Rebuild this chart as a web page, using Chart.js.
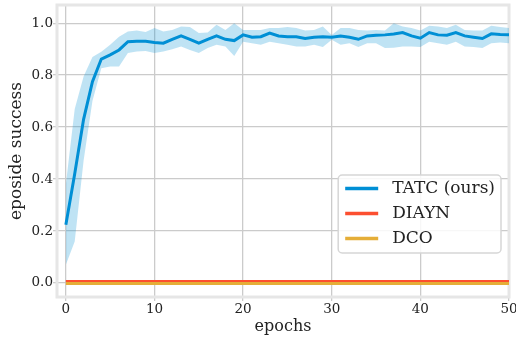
<!DOCTYPE html>
<html>
<head>
<meta charset="utf-8">
<script src="https://cdn.jsdelivr.net/npm/chart.js@4/dist/chart.umd.min.js"></script>
<style>
  html, body { margin: 0; padding: 0; background: #fff; }
</style>
</head>
<body>
<canvas id="successChart" width="516" height="338"></canvas>
<script>
// epochs en el eje x
const epochs = [0, 1, 2, 3, 4, 5, 6, 7, 8, 9, 10, 11, 12, 13, 14, 15, 16, 17, 18, 19, 20,
  21, 22, 23, 24, 25, 26, 27, 28, 29, 30, 31, 32, 33, 34, 35, 36, 37, 38, 39, 40,
  41, 42, 43, 44, 45, 46, 47, 48, 49, 50];

// TATC (ours): media y banda
const tatcMean = [0.224, 0.42, 0.63, 0.775, 0.862, 0.878, 0.897, 0.929, 0.93, 0.93, 0.926,
  0.923, 0.938, 0.951, 0.938, 0.923, 0.938, 0.951, 0.938, 0.933, 0.955,
  0.946, 0.948, 0.962, 0.951, 0.948, 0.948, 0.941, 0.946, 0.948, 0.946,
  0.951, 0.946, 0.938, 0.951, 0.954, 0.955, 0.958, 0.964, 0.951, 0.942,
  0.964, 0.955, 0.954, 0.964, 0.951, 0.946, 0.941, 0.959, 0.956, 0.955];
const tatcLower = [0.07, 0.16, 0.47, 0.70, 0.827, 0.833, 0.833, 0.885, 0.891, 0.893, 0.885,
  0.891, 0.90, 0.91, 0.897, 0.885, 0.904, 0.917, 0.91, 0.874, 0.929,
  0.923, 0.917, 0.929, 0.923, 0.917, 0.91, 0.91, 0.917, 0.908, 0.936,
  0.917, 0.923, 0.908, 0.923, 0.923, 0.904, 0.905, 0.91, 0.91, 0.908,
  0.929, 0.923, 0.917, 0.929, 0.91, 0.908, 0.904, 0.923, 0.926, 0.923];
const tatcUpper = [0.38, 0.67, 0.795, 0.87, 0.89, 0.917, 0.948, 0.968, 0.972, 0.966, 0.981,
  0.968, 0.974, 0.987, 0.985, 0.962, 0.964, 0.994, 0.974, 1.0, 0.974,
  0.974, 0.974, 0.981, 0.981, 0.985, 0.981, 0.972, 0.974, 0.987, 0.955,
  0.981, 0.981, 0.974, 0.972, 0.974, 0.972, 1.0, 0.987, 0.981, 0.972,
  0.99, 0.987, 0.981, 0.994, 0.974, 0.972, 0.972, 0.99, 0.985, 0.981];

// DIAYN y DCO: practicamente cero
const diaynMean = [0.006, 0.006, 0.006, 0.006, 0.006, 0.006, 0.006, 0.006, 0.006, 0.006, 0.006,
  0.006, 0.006, 0.006, 0.006, 0.006, 0.006, 0.006, 0.006, 0.006, 0.006,
  0.006, 0.006, 0.006, 0.006, 0.006, 0.006, 0.006, 0.006, 0.006, 0.006,
  0.006, 0.006, 0.006, 0.006, 0.006, 0.006, 0.006, 0.006, 0.006, 0.006,
  0.006, 0.006, 0.006, 0.006, 0.006, 0.006, 0.006, 0.006, 0.006, 0.006];
const dcoMean = [-0.002, -0.002, -0.002, -0.002, -0.002, -0.002, -0.002, -0.002, -0.002, -0.002, -0.002,
  -0.002, -0.002, -0.002, -0.002, -0.002, -0.002, -0.002, -0.002, -0.002, -0.002,
  -0.002, -0.002, -0.002, -0.002, -0.002, -0.002, -0.002, -0.002, -0.002, -0.002,
  -0.002, -0.002, -0.002, -0.002, -0.002, -0.002, -0.002, -0.002, -0.002, -0.002,
  -0.002, -0.002, -0.002, -0.002, -0.002, -0.002, -0.002, -0.002, -0.002, -0.002];

// ticks
const xTicks = [0, 10, 20, 30, 40, 50];
const yTicks = [0.0, 0.2, 0.4, 0.6, 0.8, 1.0];

const serif = '"DejaVu Serif", serif';
const toPoints = (arr) => arr.map((v, i) => ({ x: epochs[i], y: v }));

// marco gris claro alrededor del area del grafico
const framePlugin = {
  id: "frame",
  beforeDatasetsDraw(chart) {
    const { ctx, chartArea: a } = chart;
    ctx.save();
    ctx.strokeStyle = "#e6e6e6";
    ctx.lineWidth = 3;
    ctx.strokeRect(a.left, a.top, a.right - a.left, a.bottom - a.top);
    ctx.restore();
  },
};

// leyenda dentro del grafico (abajo a la derecha)
const insideLegend = {
  id: "insideLegend",
  afterDraw(chart) {
    const { ctx, chartArea: a } = chart;
    const items = chart.data.datasets.filter((d) => d.inLegend);
    ctx.save();
    ctx.font = "17px " + serif;
    const textW = Math.max(...items.map((d) => ctx.measureText(d.label).width));
    const w = 54 + textW + 6;
    const h = 78;
    const x = a.right - 8 - w;
    const y = a.bottom - 44 - h;
    ctx.beginPath();
    ctx.roundRect(x, y, w, h, 4);
    ctx.fillStyle = "rgba(255,255,255,0.85)";
    ctx.fill();
    ctx.strokeStyle = "#d6d6d6";
    ctx.lineWidth = 1.5;
    ctx.stroke();
    items.forEach((d, i) => {
      const cy = y + 13.5 + i * 25;
      ctx.beginPath();
      ctx.strokeStyle = d.borderColor;
      ctx.lineWidth = 3.5;
      ctx.moveTo(x + 7, cy);
      ctx.lineTo(x + 40, cy);
      ctx.stroke();
      ctx.fillStyle = "#222";
      ctx.textBaseline = "middle";
      ctx.fillText(d.label, x + 54, cy);
    });
    ctx.restore();
  },
};

const ctx = document.getElementById("successChart").getContext("2d");
new Chart(ctx, {
  type: "line",
  data: {
    datasets: [
      {
        label: "tatc_lower",
        data: toPoints(tatcLower),
        borderWidth: 0,
        pointRadius: 0,
        fill: false,
        order: 10,
      },
      {
        label: "tatc_upper",
        data: toPoints(tatcUpper),
        borderWidth: 0,
        pointRadius: 0,
        backgroundColor: "rgba(0, 143, 213, 0.25)",
        fill: "-1",
        order: 10,
      },
      {
        label: "TATC (ours)",
        data: toPoints(tatcMean),
        borderColor: "#008fd5",
        borderWidth: 3,
        pointRadius: 0,
        fill: false,
        inLegend: true,
        order: 1,
      },
      {
        label: "DIAYN",
        data: toPoints(diaynMean),
        borderColor: "#fc4f30",
        borderWidth: 3,
        pointRadius: 0,
        fill: false,
        inLegend: true,
        order: 3,
      },
      {
        label: "DCO",
        data: toPoints(dcoMean),
        borderColor: "#e5ae38",
        borderWidth: 3,
        pointRadius: 0,
        fill: false,
        inLegend: true,
        order: 2,
      },
    ],
  },
  options: {
    responsive: false,
    animation: false,
    layout: { padding: { top: 5, right: 7, left: 0, bottom: 0 } },
    plugins: {
      legend: { display: false },
      tooltip: { enabled: false },
    },
    scales: {
      x: {
        type: "linear",
        min: -1,
        max: 50,
        afterBuildTicks: (s) => { s.ticks = xTicks.map((v) => ({ value: v })); },
        afterFit: (s) => { s.height = 41; s.paddingLeft = 0; s.paddingRight = 0; },
        grid: { color: "#cbcbcb", lineWidth: 1.3, drawTicks: true, tickLength: 4 },
        border: { display: false },
        ticks: { font: { family: serif, size: 13.5 }, color: "#222", padding: 0, maxRotation: 0 },
        title: { display: true, text: "epochs", font: { family: serif, size: 16 }, color: "#222", padding: { top: 0, bottom: 2 } },
      },
      y: {
        min: -0.054,
        max: 1.07,
        afterBuildTicks: (s) => { s.ticks = yTicks.map((v) => ({ value: v })); },
        afterFit: (s) => { s.width = 57; s.paddingTop = 0; s.paddingBottom = 0; },
        grid: { color: "#cbcbcb", lineWidth: 1.3, drawTicks: true, tickLength: 4 },
        border: { display: false },
        ticks: { font: { family: serif, size: 13.5 }, color: "#222", padding: 0, callback: (v) => v.toFixed(1) },
        title: { display: true, text: "eposide success", font: { family: serif, size: 17 }, color: "#222", padding: { top: 6, bottom: 0 } },
      },
    },
  },
  plugins: [framePlugin, insideLegend],
});
</script>
</body>
</html>
